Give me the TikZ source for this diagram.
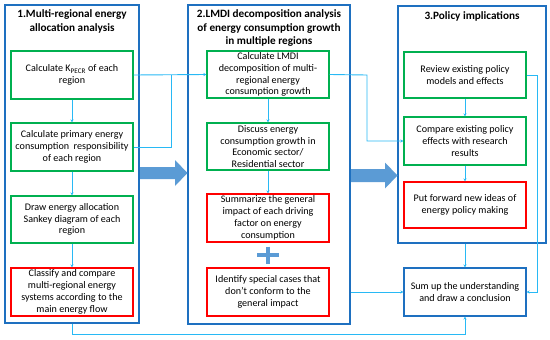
\documentclass[tikz,border=0pt]{standalone}
\usepackage{fontspec}
\setmainfont{Carlito}
\usetikzlibrary{arrows.meta}
\definecolor{gbord}{RGB}{0,176,80}
\definecolor{rbord}{RGB}{255,0,0}
\definecolor{pblue}{RGB}{30,112,192}
\definecolor{lblue}{RGB}{40,185,245}
\definecolor{abluefill}{RGB}{91,155,213}
\begin{document}
\begin{tikzpicture}[x=1pt,y=-1pt,
  txt/.style={font=\fontsize{10.1}{11.8}\selectfont, align=center, inner sep=0pt},
  gbox/.style={txt, draw=gbord, line width=1.3pt, minimum width=122pt, minimum height=47pt, fill=white},
  rbox/.style={txt, draw=rbord, line width=1.3pt, minimum width=122pt, minimum height=47pt, fill=white},
  bbox/.style={txt, draw=pblue, line width=1.3pt, minimum width=122pt, minimum height=47pt, fill=white},
  panel/.style={draw=pblue, line width=1.3pt, inner sep=0pt, fill=white},
  ttl/.style={font=\fontsize{11.2}{13.5}\selectfont\bfseries, align=center, inner sep=0pt},
  conn/.style={draw=lblue, line width=0.9pt},
  tip/.style={-{Stealth[length=3pt,width=3.2pt]}},
  bigarrow/.style={fill=abluefill, draw=none},
]
\useasboundingbox (0,0) rectangle (550,340);
% panels
\node[panel, minimum width=134pt, minimum height=318pt] (p1) at (72,164) {};
\node[panel, minimum width=162pt, minimum height=319pt] (p2) at (269,164.5) {};
\node[panel, minimum width=148pt, minimum height=237pt] (p3) at (472,124.5) {};
% titles
\node[ttl] (t1) at (72,21.5) {1.Multi-regional energy\\allocation analysis};
\node[ttl] (t2) at (269,28.5) {2.LMDI decomposition analysis\\of energy consumption growth\\in multiple regions};
\node[ttl] (t3) at (472,16) {3.Policy implications};
% column 1
\node[gbox, minimum height=48pt] (a1) at (72,75) {Calculate K\textsubscript{PECR} of each\\region};
\node[gbox, minimum height=48pt] (a2) at (72,147) {Calculate primary energy\\consumption\ \ responsibility\\of each region};
\node[gbox] (a3) at (72,219.5) {Draw energy allocation\\Sankey diagram of each\\region};
\node[rbox, minimum height=48pt] (a4) at (72,292) {Classify and compare\\multi-regional energy\\systems according to the\\main energy flow};
% column 2
\node[gbox] (b1) at (268,74.5) {Calculate LMDI\\decomposition of multi-\\regional energy\\consumption growth};
\node[gbox] (b2) at (268,146.5) {Discuss energy\\consumption growth in\\Economic sector/\\Residential sector};
\node[rbox, minimum height=48pt] (b3) at (268,218) {Summarize the general\\impact of each driving\\factor on energy\\consumption};
\node[rbox, minimum height=48pt] (b4) at (268,292) {Identify special cases that\\don’t conform to the\\general impact};
% column 3
\node[gbox, minimum height=46pt] (c1) at (465,75) {Review existing policy\\models and effects};
\node[gbox, minimum height=48pt] (c2) at (465,141) {Compare existing policy\\effects with research\\results};
\node[rbox, minimum height=46pt] (c3) at (465,205) {Put forward new ideas of\\energy policy making};
\node[bbox, minimum height=48pt] (d) at (465,292) {Sum up the understanding\\and draw a conclusion};
% helper coordinates
\coordinate (j1) at (171,75);
\coordinate (k1) at (367,75);
\coordinate (k2) at (537,75);
\coordinate (k3) at (465,334);
% connectors
\draw[conn,tip] (a1.south) -- (a2.north);
\draw[conn,tip] (a2.south) -- (a3.north);
\draw[conn,tip] (a3.south) -- (a4.north);
\draw[conn,tip] (a1.east) -- (b1.west);
\draw[conn] (a2.east) -| (j1);
\draw[conn,tip] (b1.south) -- (b2.north);
\draw[conn,tip] (b2.south) -- (b3.north);
\draw[conn,tip] (b1.east) -- (k1) |- (c2.west);
\draw[conn,tip] (c1.south) -- (c2.north);
\draw[conn,tip] (c2.south) -- (c3.north);
\draw[conn,tip] (c1.east) -- (k2) |- (d.east);
\draw[conn,tip] (d.north |- p3.south) -- (d.north);
\draw[conn,tip] (p2.east |- d.west) -- (d.west);
\draw[conn,tip] (p1.south) |- (k3) -- (d.south);
% big arrows
\fill[bigarrow] (140,167) -- (175,167) -- (175,160) -- (187.5,173) -- (175,186) -- (175,179) -- (140,179) -- cycle;
\fill[bigarrow] (351,169) -- (385,169) -- (385,162.5) -- (397.5,175.5) -- (385,188.5) -- (385,182) -- (351,182) -- cycle;
% plus sign
\draw[draw=abluefill, line width=3.6pt] (257,255) -- (279,255);
\draw[draw=abluefill, line width=3.6pt] (268,246.5) -- (268,263.5);
\end{tikzpicture}
\end{document}
